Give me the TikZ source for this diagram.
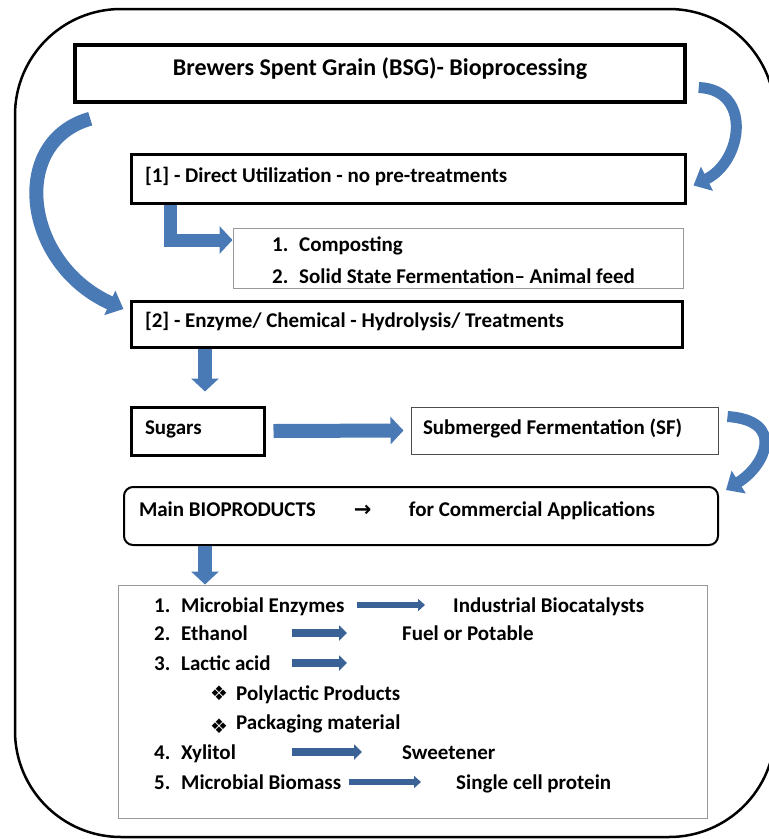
\documentclass[tikz,border=0pt]{standalone}
\usepackage{fontspec}
\setmainfont{Carlito}
\newfontfamily\dvfont{DejaVu Sans}
\usetikzlibrary{arrows.meta}
\definecolor{bsgblue}{RGB}{74,122,182}
\definecolor{bsgnavy}{RGB}{58,98,150}
\newcommand{\lnum}[1]{\makebox[27pt][l]{#1}}

\begin{document}
\begin{tikzpicture}[x=1pt,y=-1pt,font=\bfseries\fontsize{21}{25}\selectfont,
  thickbox/.style={draw,line width=3pt,inner xsep=14pt,inner ysep=0pt,align=flush left,text height=14pt,text depth=7pt},
  thinbox/.style={draw=black!40,line width=1pt,inner sep=0pt},
  item/.style={anchor=base west,inner sep=0pt,text height=14pt,text depth=0pt},
  fatarrow/.style={bsgblue,line width=14pt,-{Triangle[length=13pt,width=27pt]}},
  bendarrow/.style={bsgblue,line width=11pt,-{Triangle[length=15pt,width=26pt]}},
  thinarrow/.style={bsgnavy,line width=6pt,-{Triangle[length=7pt,width=12pt]}},
  listarrow/.style={bsgnavy,line width=8pt,-{Triangle[length=8pt,width=15pt]}}]
  \useasboundingbox (0,0) rectangle (769,839);
  \draw[line width=2.5pt,rounded corners=106pt] (15,9) rectangle (775,837);

  \node[draw,line width=3.5pt,minimum width=610pt,minimum height=57pt,text height=15pt,text depth=12pt,
    font=\bfseries\fontsize{24}{28}\selectfont] (bsg) at (380,73.5) {Brewers Spent Grain (BSG)- Bioprocessing};
  \node[thickbox,text width=526pt,minimum height=49pt] (direct) at (408,178.5) {[1] - Direct Utilization - no pre-treatments};
  \node[thinbox,minimum width=450pt,minimum height=60pt] (compost) at (458,258) {};
  \node[item] (comp) at (272,251) {\lnum{1.}Composting};
  \node[item] (ssf) at (272,283) {\lnum{2.}Solid State Fermentation– Animal feed};
  \node[thickbox,text width=523pt,minimum height=46pt] (hydro) at (406.5,324) {[2] - Enzyme/ Chemical - Hydrolysis/ Treatments};
  \node[thickbox,text width=105pt,minimum height=48pt] (sugars) at (197.5,431) {Sugars};
  \node[thickbox,draw=black!70,line width=1pt,inner xsep=12pt,text width=283pt,minimum height=47pt] (sf) at (564.5,430.5) {Submerged Fermentation (SF)};
  \node[thickbox,line width=2pt,rounded corners=9pt,inner xsep=15pt,text width=564pt,minimum height=58pt,text depth=13pt] (main) at (421,516)
    {\makebox[215pt][l]{Main BIOPRODUCTS}\makebox[55pt][l]{\dvfont →}for Commercial Applications};
  \node[thinbox,minimum width=589pt,minimum height=233pt] (list) at (412.5,701.5) {};

  \node[item] (enz) at (154,612) {\lnum{1.}Microbial Enzymes};
  \node[item] (cat) at (453,612) {Industrial Biocatalysts};
  \node[item] (eth) at (154,640) {\lnum{2.}Ethanol};
  \node[item] (fuel) at (402,640) {Fuel or Potable};
  \node[item] (lac) at (154,670) {\lnum{3.}Lactic acid};
  \node[item] (pla) at (210,700) {\makebox[26pt][l]{\dvfont\fontsize{20}{20}\selectfont ❖}Polylactic Products};
  \node[item] (pack) at (210,729) {\makebox[26pt][l]{\raisebox{-4pt}{\dvfont\fontsize{20}{20}\selectfont ❖}}Packaging material};
  \node[item] (xyl) at (154,759) {\lnum{4.}Xylitol};
  \node[item] (sweet) at (402,759) {Sweetener};
  \node[item] (bio) at (154,789) {\lnum{5.}Microbial Biomass};
  \node[item] (scp) at (456,789) {Single cell protein};

  \coordinate (col) at (292,0);
  \coordinate (down) at (205,0);
  \coordinate (elbow) at (170,0);

  \draw[bendarrow] ([shift={(12,14)}]bsg.east) .. controls +(53,2) and +(50,-25) .. ([shift={(7,7)}]direct.east);
  \draw[bendarrow,line width=14pt] ([shift={(17,15)}]bsg.south west) .. controls +(-82,23) and +(-100,-45) .. ([shift={(-6,-15)}]hydro.west);
  \draw[fatarrow,line width=13pt] (direct.south -| elbow) |- ([yshift=18pt]compost.west);
  \draw[fatarrow,shorten >=14pt] (hydro.south -| down) -- (sugars.north -| down);
  \draw[fatarrow] ([xshift=8pt]sugars.east) -- ([xshift=-7pt]sf.west);
  \draw[bendarrow] ([shift={(9,-14)}]sf.east) .. controls +(58,4) and +(40,-25) .. ([shift={(7,-26)}]main.east);
  \draw[fatarrow] (main.south -| down) -- (list.north -| down);

  \draw[thinarrow] ([xshift=12pt]enz.east) -- ([xshift=-28pt]cat.west);
  \draw[listarrow] (eth.east -| col) -- ([xshift=-55pt]fuel.west);
  \draw[listarrow] (lac.east -| col) -- ++(55,0);
  \draw[listarrow] (xyl.east -| col) -- ([xshift=-40pt]sweet.west);
  \draw[thinarrow] ([xshift=8pt]bio.east) -- ([xshift=-35pt]scp.west);
\end{tikzpicture}
\end{document}
